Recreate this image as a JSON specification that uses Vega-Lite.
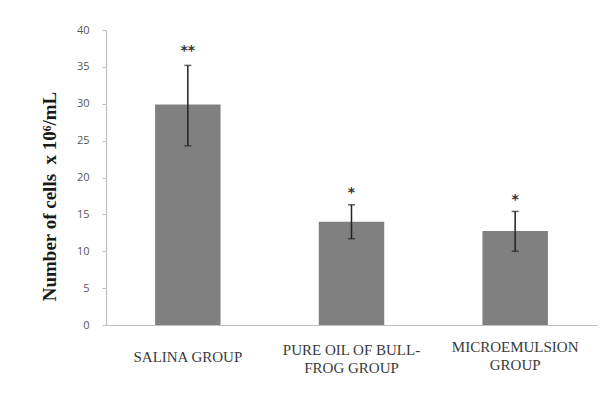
{
  "$schema": "https://vega.github.io/schema/vega-lite/v6.json",
  "width": 491,
  "height": 295,
  "autosize": {"type": "none"},
  "padding": {"left": 106, "top": 30, "right": 14, "bottom": 68},
  "background": "white",
  "config": {
    "view": {"stroke": null},
    "axisY": {
      "labelOverlap": false,
      "grid": false,
      "titleFont": "Liberation Serif",
      "titleFontSize": 19,
      "titleFontWeight": "bold",
      "titleColor": "#1a1a1a",
      "titlePadding": 17,
      "titleY": 166,
      "labelFont": "Open Sans",
      "labelFontSize": 11,
      "labelColor": "#595959",
      "labelPadding": 13,
      "tickSize": 4,
      "tickColor": "#c0c0c0",
      "domainColor": "#c0c0c0",
      "domainWidth": 1.2
    }
  },
  "data": {
    "values": [
      {"group": "SALINA GROUP", "mean": 29.9, "low": 24.3, "high": 35.2, "sig": "**", "sigpos": 37.2},
      {"group": "PURE OIL OF BULL-FROG GROUP", "mean": 14.0, "low": 11.7, "high": 16.3, "sig": "*", "sigpos": 17.9},
      {"group": "MICROEMULSION GROUP", "mean": 12.75, "low": 10.0, "high": 15.4, "sig": "*", "sigpos": 17.0}
    ]
  },
  "encoding": {
    "x": {
      "field": "group",
      "type": "nominal",
      "sort": null,
      "scale": {"paddingInner": 0.6, "paddingOuter": 0.3},
      "axis": {
        "title": null,
        "labelAngle": 0,
        "labelExpr": "datum.value == 'PURE OIL OF BULL-FROG GROUP' ? ['PURE OIL OF BULL-', 'FROG GROUP'] : datum.value == 'MICROEMULSION GROUP' ? ['MICROEMULSION', 'GROUP'] : datum.value",
        "labelFont": "Liberation Serif",
        "labelFontSize": 15,
        "labelColor": "#3a3a3a",
        "labelBaseline": "middle",
        "labelPadding": {"condition": [{"test": "datum.value == 'SALINA GROUP'", "value": 31}, {"test": "datum.value == 'MICROEMULSION GROUP'", "value": 21}], "value": 24},
        "labelLineHeight": 18,
        "ticks": false,
        "domainColor": "#c0c0c0",
        "domainWidth": 1.2
      }
    }
  },
  "layer": [
    {
      "mark": {"type": "bar", "color": "#808080"},
      "encoding": {
        "y": {
          "field": "mean",
          "type": "quantitative",
          "scale": {"domain": [0, 40]},
          "axis": {"values": [0, 5, 10, 15, 20, 25, 30, 35, 40], "title": "Number of cells\u00a0 x 10⁶/mL"}
        }
      }
    },
    {
      "mark": {"type": "rule", "color": "#222222", "strokeWidth": 1.5},
      "encoding": {
        "y": {"field": "low", "type": "quantitative", "axis": {"values": [0, 5, 10, 15, 20, 25, 30, 35, 40], "title": "Number of cells\u00a0 x 10⁶/mL"}},
        "y2": {"field": "high"}
      }
    },
    {
      "mark": {"type": "tick", "color": "#222222", "size": 7, "thickness": 1.5},
      "encoding": {"y": {"field": "low", "type": "quantitative", "axis": {"values": [0, 5, 10, 15, 20, 25, 30, 35, 40], "title": "Number of cells\u00a0 x 10⁶/mL"}}}
    },
    {
      "mark": {"type": "tick", "color": "#222222", "size": 7, "thickness": 1.5},
      "encoding": {"y": {"field": "high", "type": "quantitative", "axis": {"values": [0, 5, 10, 15, 20, 25, 30, 35, 40], "title": "Number of cells\u00a0 x 10⁶/mL"}}}
    },
    {
      "mark": {"type": "text", "font": "DejaVu Sans", "fontSize": 14, "fontWeight": "bold", "color": "#333333", "baseline": "middle"},
      "encoding": {
        "y": {"field": "sigpos", "type": "quantitative", "axis": {"values": [0, 5, 10, 15, 20, 25, 30, 35, 40], "title": "Number of cells\u00a0 x 10⁶/mL"}},
        "text": {"field": "sig"}
      }
    }
  ]
}
